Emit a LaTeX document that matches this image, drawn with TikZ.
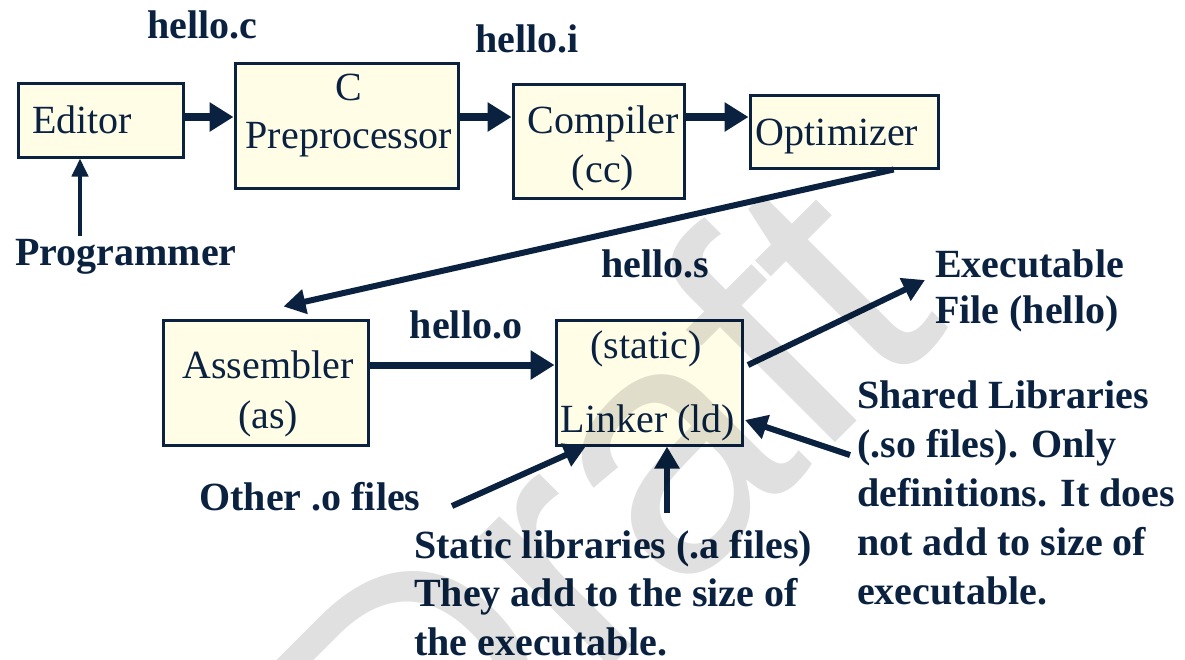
\documentclass[tikz,border=0pt]{standalone}
\usepackage{fontspec}
\setmainfont{Liberation Serif}
\newfontfamily\wmfont{Liberation Sans}
\usetikzlibrary{arrows.meta,calc}
\definecolor{navy}{HTML}{0A2240}
\definecolor{boxfill}{HTML}{FFFDE6}
\tikzset{
  box/.style={draw=navy, line width=3pt, fill=boxfill, rectangle, inner sep=0pt},
  btxt/.style={font=\fontsize{40}{48}\selectfont, text=navy, inner sep=0pt, anchor=base},
  lbl/.style={font=\bfseries\fontsize{40}{48}\selectfont, text=navy, inner sep=0pt, anchor=base},
  lbll/.style={lbl, anchor=base west},
  bigarrow/.style={draw=navy, line width=8pt, -{Triangle[length=24pt,width=28pt]}},
  midarrow/.style={draw=navy, line width=6pt, -{Triangle[length=22pt,width=24pt]}},
  thinarrow/.style={draw=navy, line width=4pt, -{Triangle[length=18pt,width=16pt]}},
}
\begin{document}
\begin{tikzpicture}[x=1pt,y=-1pt]
\fill[white] (0,0) rectangle (1185,659);
\useasboundingbox (0,0) rectangle (1185,659);

% boxes
\node[box, minimum width=165pt, minimum height=74pt] (editor) at (100.5,120) {};
\node[box, minimum width=223pt, minimum height=125pt] (cpp) at (346.5,125.5) {};
\node[box, minimum width=171pt, minimum height=114pt] (compiler) at (598.5,141) {};
\node[box, minimum width=188pt, minimum height=73pt] (optimizer) at (844,131.5) {};
\node[box, minimum width=205pt, minimum height=125pt] (assembler) at (265.5,382.5) {};
\node[box, minimum width=186pt, minimum height=125pt] (linker) at (649,382.5) {};

% box texts
\node[btxt] (editorT) at (82,133) {Editor};
\node[btxt] (cppT1) at (349,100) {C};
\node[btxt] (cppT2) at (349,148) {Preprocessor};
\node[btxt] (compT1) at (603,133) {Compiler};
\node[btxt] (compT2) at (603,182) {(cc)};
\node[btxt] (optT) at (837,145) {Optimizer};
\node[btxt] (asmT1) at (268,378) {Assembler};
\node[btxt] (asmT2) at (268,428) {(as)};
\node[btxt] (linkT1) at (646,358) {(static)};
\node[btxt] (linkT2) at (648,432) {Linker (ld)};

% labels
\node[lbl] (helloc) at (202,38) {hello.c};
\node[lbl] (helloi) at (527,52) {hello.i};
\node[lbl] (prog) at (126,265) {Programmer};
\node[lbl] (hellos) at (655,277) {hello.s};
\node[lbl] (helloo) at (466,338) {hello.o};
\node[lbl] (other) at (310,510) {Other .o files};
\node[lbll] (exec1) at (935,277) {Executable};
\node[lbll] (exec2) at (935,323) {File (hello)};
\node[lbll] (sh1) at (857,408) {Shared Libraries};
\node[lbll] (sh2) at (857,457) {(.so files). Only};
\node[lbll] (sh3) at (857,506) {definitions. It does};
\node[lbll] (sh4) at (857,555) {not add to size of};
\node[lbll] (sh5) at (857,604) {executable.};
\node[lbll] (st1) at (414,558) {Static libraries (.a files)};
\node[lbll] (st2) at (414,606) {They add to the size of};
\node[lbll] (st3) at (414,655) {the executable.};

% connector coordinates
\coordinate (row) at (0,117);
\coordinate (row2) at (0,365);
\coordinate (progtail) at (80,236);
\coordinate (optout) at ($(optimizer.south west)!0.76!(optimizer.south east)$);
\coordinate (asmin) at ($(assembler.north)+(18,-12)$);
\coordinate (linkout) at (748,365);
\coordinate (execin) at (925,280);
\coordinate (shtail) at (850,455);
\coordinate (shin) at (745,420);
\coordinate (othtail) at (452,506);
\coordinate (othin) at (586,446);
\coordinate (sttail) at (667,513);

% connectors
\draw[bigarrow] (editor.east |- row) -- (cpp.west |- row);
\draw[bigarrow] (cpp.east |- row) -- (compiler.west |- row);
\draw[bigarrow] (compiler.east |- row) -- (optimizer.west |- row);
\draw[thinarrow] (progtail) -- (progtail |- editor.south);
\draw[midarrow] (optout) -- (asmin);
\draw[bigarrow, line width=7pt] (assembler.east |- row2) -- (linker.west |- row2);
\draw[midarrow] (linkout) -- (execin);
\draw[midarrow] (shtail) -- (shin);
\draw[midarrow] (othtail) -- (othin);
\draw[midarrow] (sttail) -- (sttail |- linker.south);

% watermark
\node[font=\wmfont\fontsize{350}{350}\selectfont, text=black, text opacity=0.12, rotate=45, inner sep=0pt, anchor=base east] (draft) at (951,327) {Draft};
\end{tikzpicture}
\end{document}
